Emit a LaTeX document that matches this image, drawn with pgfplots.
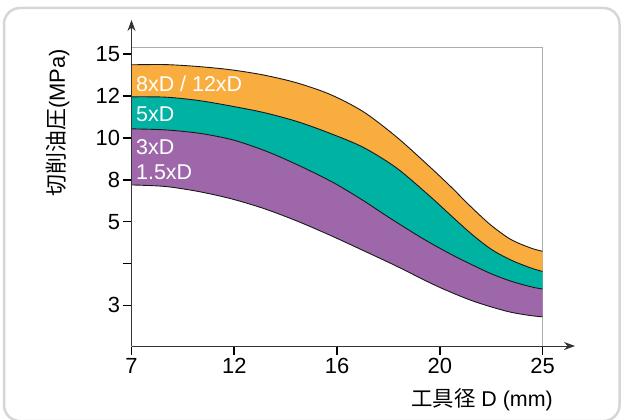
\documentclass[border=0pt]{standalone}
\usepackage{pgfplots}
\usepackage{pgfplotstable}
\pgfplotsset{compat=1.18}
\usepgfplotslibrary{fillbetween}
\usetikzlibrary{arrows.meta}
\usepackage{fontspec}
\setmainfont{Liberation Sans}
\newfontfamily\cjk{Noto Sans CJK JP}
\definecolor{cOrange}{RGB}{249,173,63}
\definecolor{cTeal}{RGB}{0,178,162}
\definecolor{cPurple}{RGB}{158,103,170}
\definecolor{frameg}{RGB}{214,214,214}
% x: 0..4 = 7,12,16,20,25 ; y: 0..6 = 3,(4),5,8,10,12,15
\pgfplotstableread{
x y
0 5.745
0.327 5.750
0.648 5.704
0.970 5.625
1.292 5.498
1.614 5.310
1.936 5.035
2.257 4.623
2.579 4.023
2.901 3.313
3.106 2.838
3.301 2.360
3.496 1.920
3.691 1.575
3.886 1.370
4.0 1.291
}\curveA
\pgfplotstableread{
x y
0 4.980
0.327 4.973
0.648 4.894
0.970 4.760
1.292 4.602
1.614 4.389
1.936 4.105
2.257 3.772
2.579 3.282
2.901 2.613
3.106 2.152
3.301 1.721
3.496 1.348
3.691 1.085
3.886 0.894
4.0 0.810
}\curveB
\pgfplotstableread{
x y
0 4.215
0.327 4.191
0.668 4.107
0.990 3.949
1.321 3.672
1.643 3.325
1.965 2.931
2.257 2.501
2.521 2.075
2.842 1.585
3.106 1.224
3.301 0.985
3.496 0.760
3.691 0.579
3.886 0.445
4.0 0.390
}\curveC
\pgfplotstableread{
x y
0 2.876
0.327 2.840
0.648 2.721
0.970 2.546
1.292 2.309
1.614 2.011
1.936 1.671
2.257 1.308
2.579 0.937
2.901 0.543
3.106 0.316
3.301 0.124
3.496 -0.033
3.691 -0.163
3.886 -0.244
4.0 -0.273
}\curveD
\begin{document}
\begin{tikzpicture}[x=1bp,y=1bp]
\draw[frameg, line width=2.5bp, rounded corners=16bp] (4,-2) rectangle (619.5,411);
\begin{axis}[
  at={(131.5bp,73bp)}, anchor=south west,
  width=411bp, height=299bp, scale only axis,
  xmin=0, xmax=4, ymin=-0.97, ymax=6.17,
  axis line style={draw=gray!65, line width=0.6bp},
  xtick={0,1,2,3,4}, xticklabels={7,12,16,20,25},
  ytick={0,1,2,3,4,5,6}, yticklabels={3,,5,8,10,12,15},
  tick align=outside, xtick pos=bottom, ytick pos=left,
  major tick length=9bp,
  tick style={black, line width=1.6bp},
  ticklabel style={font=\fontsize{22}{24}\selectfont},
  yticklabel style={xshift=1bp},
  /pgf/number format/assume math mode=true,
  clip=false,
]
\addplot[draw=none, name path=A, smooth] table {\curveA};
\addplot[draw=none, name path=B, smooth] table {\curveB};
\addplot[draw=none, name path=C, smooth] table {\curveC};
\addplot[draw=none, name path=D, smooth] table {\curveD};
\addplot[cOrange] fill between[of=A and B];
\addplot[cTeal] fill between[of=B and C];
\addplot[cPurple] fill between[of=C and D];
\addplot[black!90, line width=0.9bp, smooth] table {\curveA};
\addplot[black!90, line width=0.9bp, smooth] table {\curveB};
\addplot[black!90, line width=0.9bp, smooth] table {\curveC};
\addplot[black!90, line width=0.9bp, smooth] table {\curveD};
\end{axis}
\draw[black!80, line width=0.8bp, -{Stealth[length=11bp,width=8bp]}] (131.5,73) -- (131.5,399);
\draw[black!80, line width=0.8bp, -{Stealth[length=11bp,width=8bp]}] (131.5,73) -- (575,73);
\begin{scope}[every node/.style={anchor=west, text=white, font=\fontsize{21.5}{23}\selectfont, inner sep=0pt}]
\node at (136,335) {8xD / 12xD};
\node at (136,304.5) {5xD};
\node at (136,272) {3xD};
\node at (136,246.5) {1.5xD};
\end{scope}
\node[rotate=90, font=\fontsize{22}{24}\selectfont, inner sep=0pt] at (58,296) {{\cjk 切削油圧}(MPa)};
\node[font=\fontsize{21.5}{23}\selectfont, inner sep=0pt] at (482,19) {{\cjk 工具径} D (mm)};
\pgfresetboundingbox
\path[use as bounding box] (0,0) rectangle (621,419);
\end{tikzpicture}
\end{document}
